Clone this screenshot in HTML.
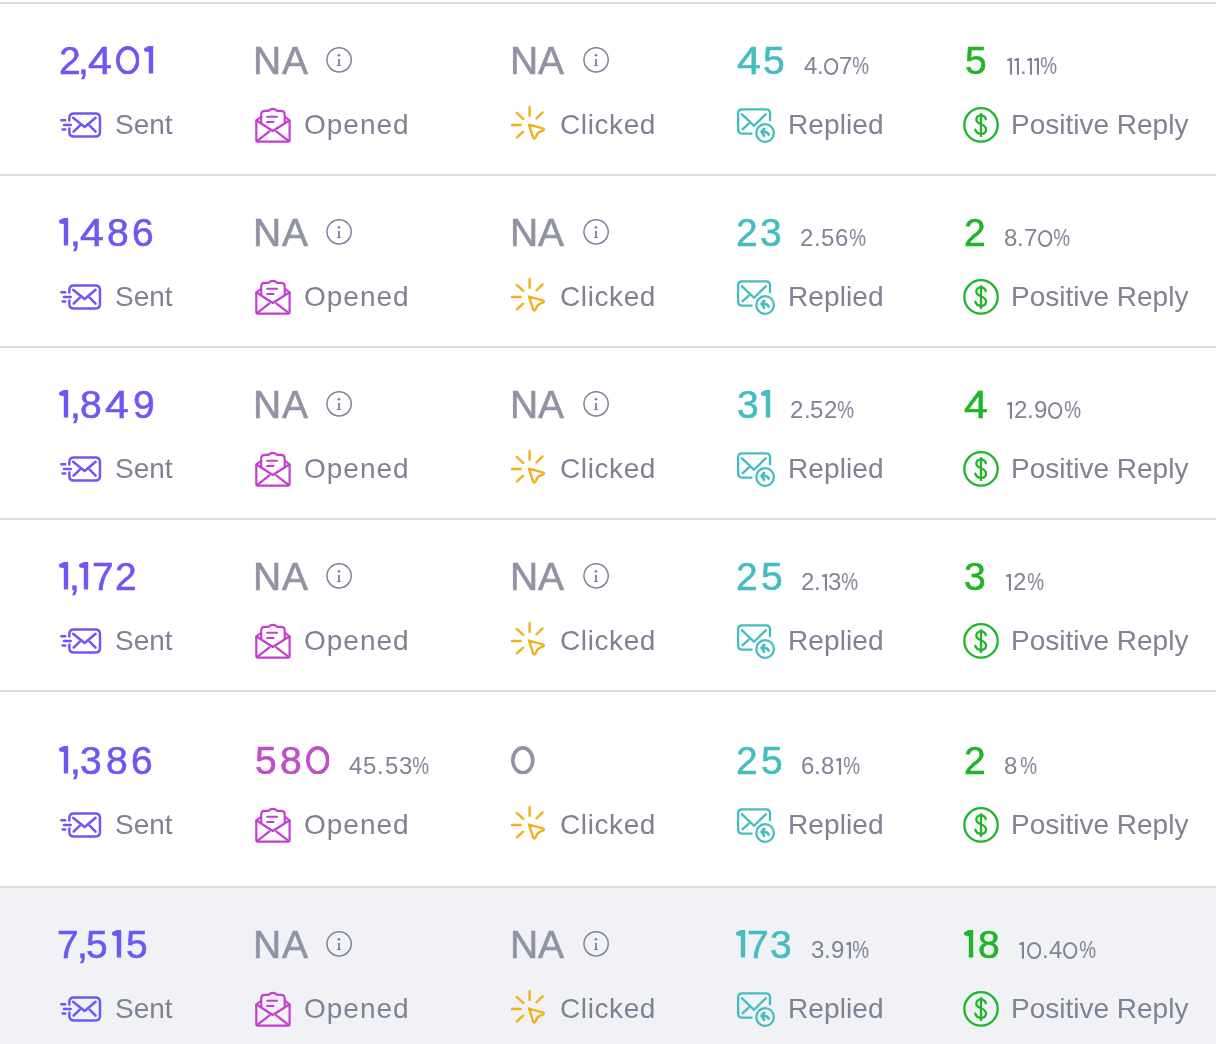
<!DOCTYPE html>
<html><head><meta charset="utf-8"><style>
html,body{margin:0;padding:0}
body{width:1216px;height:1044px;overflow:hidden;position:relative;background:#fff;font-family:"Liberation Sans",sans-serif}
.bd{position:absolute;left:0;width:1216px;height:2px;background:#dcdcdc}
.gn{position:absolute;font-size:39px;line-height:39px;-webkit-text-stroke:0.6px currentColor}
.gp{position:absolute;font-size:24px;line-height:24px;-webkit-text-stroke:0.0px currentColor}
.g1{position:absolute}
.lab{position:absolute;white-space:nowrap;font-size:28px;line-height:28px;color:#808294}
.ic{position:absolute;overflow:visible}
.gn,.gp,.lab{will-change:transform}
</style></head><body>
<div class="bd" style="top:2px"></div>
<div class="bd" style="top:174px"></div>
<div class="bd" style="top:346px"></div>
<div class="bd" style="top:518px"></div>
<div class="bd" style="top:690px"></div>
<div class="bd" style="top:886px"></div>
<div style="position:absolute;left:0;top:888px;width:1216px;height:156px;background:#f1f2f6"></div>
<span class="gn" style="left:59.04px;top:40.78px;color:#6c58f4">2</span>
<span class="gn" style="left:78.07px;top:40.78px;color:#6c58f4">,</span>
<span class="gn" style="left:87.86px;top:40.78px;color:#6c58f4;transform:scaleX(1.1);transform-origin:0.60px 50%">4</span>
<svg class="g1" style="left:115.64px;top:45.60px" width="23.60" height="28.60" viewBox="0 0 23.60 28.60"><ellipse cx="11.80" cy="14.30" rx="9.95" ry="12.45" fill="none" stroke="#6c58f4" stroke-width="3.7"/></svg>
<svg class="g1" style="left:144.20px;top:46.20px" width="10.20" height="28.60" viewBox="0 0 10.20 28.60"><path d="M4.80,0 H9.20 V27.60 H4.80 V6.00 L1.90,5.70 Q0,5.50 0,3.90 V3.40 Q0,1.90 1.60,1.60 Z" fill="#6c58f4"/></svg>
<span class="gn" style="left:252.80px;top:40.78px;color:#9193a5">N</span>
<span class="gn" style="left:281.66px;top:40.78px;color:#9193a5">A</span>
<svg class="ic" style="left:322px;top:42px" width="34" height="34" viewBox="0 0 34 34"><circle cx="17.1" cy="17.8" r="12.15" fill="none" stroke="#80819c" stroke-width="1.5"/><circle cx="16.9" cy="13.2" r="1.3" fill="#80819c"/><path d="M15.8,16.9 H17.9 V23 H18.9 V24 H15 V23 H16.1 V17.8 H15.8 Z" fill="#80819c"/></svg>
<span class="gn" style="left:509.70px;top:40.78px;color:#9193a5">N</span>
<span class="gn" style="left:538.16px;top:40.78px;color:#9193a5">A</span>
<svg class="ic" style="left:579px;top:42px" width="34" height="34" viewBox="0 0 34 34"><circle cx="17.1" cy="17.8" r="12.15" fill="none" stroke="#80819c" stroke-width="1.5"/><circle cx="16.9" cy="13.2" r="1.3" fill="#80819c"/><path d="M15.8,16.9 H17.9 V23 H18.9 V24 H15 V23 H16.1 V17.8 H15.8 Z" fill="#80819c"/></svg>
<span class="gn" style="left:736.50px;top:40.78px;color:#45bdbf;transform:scaleX(1.1);transform-origin:0.60px 50%">4</span>
<span class="gn" style="left:762.65px;top:40.78px;color:#45bdbf">5</span>
<span class="gp" style="left:803.75px;top:54.48px;color:#818396">4</span>
<span class="gp" style="left:816.66px;top:54.48px;color:#818396">.</span>
<svg class="g1" style="left:823.79px;top:58.20px" width="14.30" height="17.00" viewBox="0 0 14.30 17.00"><ellipse cx="7.15" cy="8.50" rx="6.15" ry="7.50" fill="none" stroke="#818396" stroke-width="2.0"/></svg>
<span class="gp" style="left:838.70px;top:54.48px;color:#818396">7</span>
<span class="gp" style="left:851.74px;top:54.48px;color:#818396;transform:scaleX(0.79);transform-origin:0.86px 50%">%</span>
<span class="gn" style="left:964.74px;top:40.78px;color:#1fb52b">5</span>
<svg class="g1" style="left:1006.80px;top:58.10px" width="6.00" height="17.70" viewBox="0 0 6.00 17.70"><path d="M2.90,0 H5.00 V16.70 H2.90 V3.0 L0.7,2.7 Q0,2.6 0,2.0 V1.7 Q0,1.1 0.7,0.95 Z" fill="#818396"/></svg>
<svg class="g1" style="left:1014.09px;top:58.10px" width="6.00" height="17.70" viewBox="0 0 6.00 17.70"><path d="M2.90,0 H5.00 V16.70 H2.90 V3.0 L0.7,2.7 Q0,2.6 0,2.0 V1.7 Q0,1.1 0.7,0.95 Z" fill="#818396"/></svg>
<span class="gp" style="left:1019.71px;top:54.48px;color:#818396">.</span>
<svg class="g1" style="left:1027.01px;top:58.10px" width="6.00" height="17.70" viewBox="0 0 6.00 17.70"><path d="M2.90,0 H5.00 V16.70 H2.90 V3.0 L0.7,2.7 Q0,2.6 0,2.0 V1.7 Q0,1.1 0.7,0.95 Z" fill="#818396"/></svg>
<svg class="g1" style="left:1034.30px;top:58.10px" width="6.00" height="17.70" viewBox="0 0 6.00 17.70"><path d="M2.90,0 H5.00 V16.70 H2.90 V3.0 L0.7,2.7 Q0,2.6 0,2.0 V1.7 Q0,1.1 0.7,0.95 Z" fill="#818396"/></svg>
<span class="gp" style="left:1040.24px;top:54.48px;color:#818396;transform:scaleX(0.79);transform-origin:0.86px 50%">%</span>
<svg class="ic" style="left:56px;top:106px" width="50" height="38" viewBox="0 0 50 38"><g fill="none" stroke="#6c58f4" stroke-width="2.5" stroke-linecap="round" stroke-linejoin="round"><path d="M13.35,14.4 V12 Q13.35,7.45 17.9,7.45 H39.4 Q43.95,7.45 43.95,12 V25.9 Q43.95,30.45 39.4,30.45 H17.9 Q13.35,30.45 13.35,25.9 V22.4"/><path d="M5.35,14.2 H9.25 M8.05,18.9 H14.75 M6.55,23.6 H9.25"/><path d="M17.1,11.7 L28.6,21 L39.6,11.7"/><path d="M17.6,25.6 L23.8,19.6 M39.6,25.6 L33.6,19.6"/></g></svg>
<svg class="ic" style="left:250px;top:102px" width="46" height="44" viewBox="0 0 46 44"><g fill="none" stroke="#c43fcf" stroke-width="2.2" stroke-linecap="round" stroke-linejoin="round"><path d="M6.3,18.5 V38 Q6.3,39.6 7.9,39.6 H38 Q39.6,39.6 39.6,38 V18.5"/><path d="M6.3,18.5 L10.8,15 M39.6,18.5 L35.2,15"/><path d="M11.2,20.5 V12.7 Q11.2,8.9 15,8.9 H18.3 Q22.8,4.9 27.3,8.9 H30.9 Q34.7,8.9 34.7,12.7 V20.5"/><path d="M6.6,18.5 L22.8,29 L39.2,18.5"/><path d="M7.2,38.8 L19.5,29.4 M38.6,38.8 L26.2,29.4"/><path d="M17.2,14.8 H27 M17.2,20 H23.5" stroke-width="2.1"/></g></svg>
<svg class="ic" style="left:506px;top:102px" width="46" height="44" viewBox="0 0 46 44"><g fill="none" stroke="#f0b020" stroke-width="2.4" stroke-linecap="round" stroke-linejoin="round"><path d="M23.6,5.1 V13.7 M10.7,10.9 L17.3,16.9 M36.6,10.4 L30.4,16.5 M6.0,23 H14.7 M17.15,29.65 L10.95,35.35"/><path d="M23,22.6 L27.3,35.8 Q28.2,37.4 29.2,35.8 L31.4,31.8 Q32.6,30.2 34.6,29.3 L37.3,28.3 Q38.5,27.4 37.3,26.7 Z"/></g></svg>
<svg class="ic" style="left:732px;top:102px" width="46" height="44" viewBox="0 0 46 44"><g fill="none" stroke="#45bdbf" stroke-width="2.3" stroke-linecap="round" stroke-linejoin="round"><path d="M38,18.3 V11.3 Q38,7.3 34,7.3 H10.1 Q6.1,7.3 6.1,11.3 V27.6 Q6.1,31.6 10.1,31.6 H19.6"/><path d="M9.8,12.2 L22.1,23.8 L33.8,12.2"/><path d="M10.7,27.2 L16.8,21.6"/><circle cx="33.1" cy="31" r="8.8"/><path d="M32.1,27.0 L29.6,29.7 L32.1,33.8 M29.8,29.8 Q35.4,29.4 36.6,32.4" stroke-width="2.7"/></g></svg>
<svg class="ic" style="left:958px;top:102px" width="46" height="44" viewBox="0 0 46 44"><g fill="none" stroke="#1fb52b" stroke-width="2.3" stroke-linecap="round" stroke-linejoin="round"><circle cx="23" cy="22.9" r="16.7"/><path d="M23,11.2 V35" stroke-linecap="butt"/><path d="M27.8,17.2 C27,14.5 25,13.4 23,13.4 C20.2,13.4 18.3,15.3 18.3,17.6 C18.3,20.4 20.8,21.4 23,22.3 C25.6,23.3 28,24.5 28,27.4 C28,30.2 25.8,31.8 23,31.8 C20.2,31.8 18.1,30.4 17.3,27.6"/></g></svg>
<div class="lab" style="left:115px;top:111.29px;letter-spacing:0px">Sent</div>
<div class="lab" style="left:304px;top:111.29px;letter-spacing:1.0px">Opened</div>
<div class="lab" style="left:560px;top:111.29px;letter-spacing:0.6px">Clicked</div>
<div class="lab" style="left:787.5px;top:111.29px;letter-spacing:0.1px">Replied</div>
<div class="lab" style="left:1011px;top:111.29px;letter-spacing:0px">Positive Reply</div>
<svg class="g1" style="left:59.40px;top:218.20px" width="10.20" height="28.60" viewBox="0 0 10.20 28.60"><path d="M4.80,0 H9.20 V27.60 H4.80 V6.00 L1.90,5.70 Q0,5.50 0,3.90 V3.40 Q0,1.90 1.60,1.60 Z" fill="#6c58f4"/></svg>
<span class="gn" style="left:69.89px;top:212.78px;color:#6c58f4">,</span>
<span class="gn" style="left:80.18px;top:212.78px;color:#6c58f4;transform:scaleX(1.1);transform-origin:0.60px 50%">4</span>
<span class="gn" style="left:107.45px;top:212.78px;color:#6c58f4">8</span>
<span class="gn" style="left:131.92px;top:212.78px;color:#6c58f4">6</span>
<span class="gn" style="left:252.80px;top:212.78px;color:#9193a5">N</span>
<span class="gn" style="left:281.66px;top:212.78px;color:#9193a5">A</span>
<svg class="ic" style="left:322px;top:214px" width="34" height="34" viewBox="0 0 34 34"><circle cx="17.1" cy="17.8" r="12.15" fill="none" stroke="#80819c" stroke-width="1.5"/><circle cx="16.9" cy="13.2" r="1.3" fill="#80819c"/><path d="M15.8,16.9 H17.9 V23 H18.9 V24 H15 V23 H16.1 V17.8 H15.8 Z" fill="#80819c"/></svg>
<span class="gn" style="left:509.70px;top:212.78px;color:#9193a5">N</span>
<span class="gn" style="left:538.16px;top:212.78px;color:#9193a5">A</span>
<svg class="ic" style="left:579px;top:214px" width="34" height="34" viewBox="0 0 34 34"><circle cx="17.1" cy="17.8" r="12.15" fill="none" stroke="#80819c" stroke-width="1.5"/><circle cx="16.9" cy="13.2" r="1.3" fill="#80819c"/><path d="M15.8,16.9 H17.9 V23 H18.9 V24 H15 V23 H16.1 V17.8 H15.8 Z" fill="#80819c"/></svg>
<span class="gn" style="left:735.54px;top:212.78px;color:#45bdbf">2</span>
<span class="gn" style="left:759.72px;top:212.78px;color:#45bdbf">3</span>
<span class="gp" style="left:800.09px;top:226.48px;color:#818396">2</span>
<span class="gp" style="left:814.12px;top:226.48px;color:#818396">.</span>
<span class="gp" style="left:821.42px;top:226.48px;color:#818396">5</span>
<span class="gp" style="left:835.21px;top:226.48px;color:#818396">6</span>
<span class="gp" style="left:848.94px;top:226.48px;color:#818396;transform:scaleX(0.79);transform-origin:0.86px 50%">%</span>
<span class="gn" style="left:963.64px;top:212.78px;color:#1fb52b">2</span>
<span class="gp" style="left:1003.96px;top:226.48px;color:#818396">8</span>
<span class="gp" style="left:1017.16px;top:226.48px;color:#818396">.</span>
<span class="gp" style="left:1023.69px;top:226.48px;color:#818396">7</span>
<svg class="g1" style="left:1037.88px;top:230.20px" width="14.30" height="17.00" viewBox="0 0 14.30 17.00"><ellipse cx="7.15" cy="8.50" rx="6.15" ry="7.50" fill="none" stroke="#818396" stroke-width="2.0"/></svg>
<span class="gp" style="left:1053.04px;top:226.48px;color:#818396;transform:scaleX(0.79);transform-origin:0.86px 50%">%</span>
<svg class="ic" style="left:56px;top:278px" width="50" height="38" viewBox="0 0 50 38"><g fill="none" stroke="#6c58f4" stroke-width="2.5" stroke-linecap="round" stroke-linejoin="round"><path d="M13.35,14.4 V12 Q13.35,7.45 17.9,7.45 H39.4 Q43.95,7.45 43.95,12 V25.9 Q43.95,30.45 39.4,30.45 H17.9 Q13.35,30.45 13.35,25.9 V22.4"/><path d="M5.35,14.2 H9.25 M8.05,18.9 H14.75 M6.55,23.6 H9.25"/><path d="M17.1,11.7 L28.6,21 L39.6,11.7"/><path d="M17.6,25.6 L23.8,19.6 M39.6,25.6 L33.6,19.6"/></g></svg>
<svg class="ic" style="left:250px;top:274px" width="46" height="44" viewBox="0 0 46 44"><g fill="none" stroke="#c43fcf" stroke-width="2.2" stroke-linecap="round" stroke-linejoin="round"><path d="M6.3,18.5 V38 Q6.3,39.6 7.9,39.6 H38 Q39.6,39.6 39.6,38 V18.5"/><path d="M6.3,18.5 L10.8,15 M39.6,18.5 L35.2,15"/><path d="M11.2,20.5 V12.7 Q11.2,8.9 15,8.9 H18.3 Q22.8,4.9 27.3,8.9 H30.9 Q34.7,8.9 34.7,12.7 V20.5"/><path d="M6.6,18.5 L22.8,29 L39.2,18.5"/><path d="M7.2,38.8 L19.5,29.4 M38.6,38.8 L26.2,29.4"/><path d="M17.2,14.8 H27 M17.2,20 H23.5" stroke-width="2.1"/></g></svg>
<svg class="ic" style="left:506px;top:274px" width="46" height="44" viewBox="0 0 46 44"><g fill="none" stroke="#f0b020" stroke-width="2.4" stroke-linecap="round" stroke-linejoin="round"><path d="M23.6,5.1 V13.7 M10.7,10.9 L17.3,16.9 M36.6,10.4 L30.4,16.5 M6.0,23 H14.7 M17.15,29.65 L10.95,35.35"/><path d="M23,22.6 L27.3,35.8 Q28.2,37.4 29.2,35.8 L31.4,31.8 Q32.6,30.2 34.6,29.3 L37.3,28.3 Q38.5,27.4 37.3,26.7 Z"/></g></svg>
<svg class="ic" style="left:732px;top:274px" width="46" height="44" viewBox="0 0 46 44"><g fill="none" stroke="#45bdbf" stroke-width="2.3" stroke-linecap="round" stroke-linejoin="round"><path d="M38,18.3 V11.3 Q38,7.3 34,7.3 H10.1 Q6.1,7.3 6.1,11.3 V27.6 Q6.1,31.6 10.1,31.6 H19.6"/><path d="M9.8,12.2 L22.1,23.8 L33.8,12.2"/><path d="M10.7,27.2 L16.8,21.6"/><circle cx="33.1" cy="31" r="8.8"/><path d="M32.1,27.0 L29.6,29.7 L32.1,33.8 M29.8,29.8 Q35.4,29.4 36.6,32.4" stroke-width="2.7"/></g></svg>
<svg class="ic" style="left:958px;top:274px" width="46" height="44" viewBox="0 0 46 44"><g fill="none" stroke="#1fb52b" stroke-width="2.3" stroke-linecap="round" stroke-linejoin="round"><circle cx="23" cy="22.9" r="16.7"/><path d="M23,11.2 V35" stroke-linecap="butt"/><path d="M27.8,17.2 C27,14.5 25,13.4 23,13.4 C20.2,13.4 18.3,15.3 18.3,17.6 C18.3,20.4 20.8,21.4 23,22.3 C25.6,23.3 28,24.5 28,27.4 C28,30.2 25.8,31.8 23,31.8 C20.2,31.8 18.1,30.4 17.3,27.6"/></g></svg>
<div class="lab" style="left:115px;top:283.29px;letter-spacing:0px">Sent</div>
<div class="lab" style="left:304px;top:283.29px;letter-spacing:1.0px">Opened</div>
<div class="lab" style="left:560px;top:283.29px;letter-spacing:0.6px">Clicked</div>
<div class="lab" style="left:787.5px;top:283.29px;letter-spacing:0.1px">Replied</div>
<div class="lab" style="left:1011px;top:283.29px;letter-spacing:0px">Positive Reply</div>
<svg class="g1" style="left:59.10px;top:390.20px" width="10.20" height="28.60" viewBox="0 0 10.20 28.60"><path d="M4.80,0 H9.20 V27.60 H4.80 V6.00 L1.90,5.70 Q0,5.50 0,3.90 V3.40 Q0,1.90 1.60,1.60 Z" fill="#6c58f4"/></svg>
<span class="gn" style="left:69.86px;top:384.78px;color:#6c58f4">,</span>
<span class="gn" style="left:79.55px;top:384.78px;color:#6c58f4">8</span>
<span class="gn" style="left:105.46px;top:384.78px;color:#6c58f4;transform:scaleX(1.1);transform-origin:0.60px 50%">4</span>
<span class="gn" style="left:132.96px;top:384.78px;color:#6c58f4">9</span>
<span class="gn" style="left:252.80px;top:384.78px;color:#9193a5">N</span>
<span class="gn" style="left:281.66px;top:384.78px;color:#9193a5">A</span>
<svg class="ic" style="left:322px;top:386px" width="34" height="34" viewBox="0 0 34 34"><circle cx="17.1" cy="17.8" r="12.15" fill="none" stroke="#80819c" stroke-width="1.5"/><circle cx="16.9" cy="13.2" r="1.3" fill="#80819c"/><path d="M15.8,16.9 H17.9 V23 H18.9 V24 H15 V23 H16.1 V17.8 H15.8 Z" fill="#80819c"/></svg>
<span class="gn" style="left:509.70px;top:384.78px;color:#9193a5">N</span>
<span class="gn" style="left:538.16px;top:384.78px;color:#9193a5">A</span>
<svg class="ic" style="left:579px;top:386px" width="34" height="34" viewBox="0 0 34 34"><circle cx="17.1" cy="17.8" r="12.15" fill="none" stroke="#80819c" stroke-width="1.5"/><circle cx="16.9" cy="13.2" r="1.3" fill="#80819c"/><path d="M15.8,16.9 H17.9 V23 H18.9 V24 H15 V23 H16.1 V17.8 H15.8 Z" fill="#80819c"/></svg>
<span class="gn" style="left:736.91px;top:384.78px;color:#45bdbf">3</span>
<svg class="g1" style="left:760.80px;top:390.20px" width="10.20" height="28.60" viewBox="0 0 10.20 28.60"><path d="M4.80,0 H9.20 V27.60 H4.80 V6.00 L1.90,5.70 Q0,5.50 0,3.90 V3.40 Q0,1.90 1.60,1.60 Z" fill="#45bdbf"/></svg>
<span class="gp" style="left:790.09px;top:398.48px;color:#818396">2</span>
<span class="gp" style="left:803.64px;top:398.48px;color:#818396">.</span>
<span class="gp" style="left:810.49px;top:398.48px;color:#818396">5</span>
<span class="gp" style="left:823.97px;top:398.48px;color:#818396">2</span>
<span class="gp" style="left:837.44px;top:398.48px;color:#818396;transform:scaleX(0.79);transform-origin:0.86px 50%">%</span>
<span class="gn" style="left:964.10px;top:384.78px;color:#1fb52b;transform:scaleX(1.1);transform-origin:0.60px 50%">4</span>
<svg class="g1" style="left:1006.90px;top:402.10px" width="6.00" height="17.70" viewBox="0 0 6.00 17.70"><path d="M2.90,0 H5.00 V16.70 H2.90 V3.0 L0.7,2.7 Q0,2.6 0,2.0 V1.7 Q0,1.1 0.7,0.95 Z" fill="#818396"/></svg>
<span class="gp" style="left:1013.54px;top:398.48px;color:#818396">2</span>
<span class="gp" style="left:1027.07px;top:398.48px;color:#818396">.</span>
<span class="gp" style="left:1033.91px;top:398.48px;color:#818396">9</span>
<svg class="g1" style="left:1048.31px;top:402.20px" width="14.30" height="17.00" viewBox="0 0 14.30 17.00"><ellipse cx="7.15" cy="8.50" rx="6.15" ry="7.50" fill="none" stroke="#818396" stroke-width="2.0"/></svg>
<span class="gp" style="left:1063.64px;top:398.48px;color:#818396;transform:scaleX(0.79);transform-origin:0.86px 50%">%</span>
<svg class="ic" style="left:56px;top:450px" width="50" height="38" viewBox="0 0 50 38"><g fill="none" stroke="#6c58f4" stroke-width="2.5" stroke-linecap="round" stroke-linejoin="round"><path d="M13.35,14.4 V12 Q13.35,7.45 17.9,7.45 H39.4 Q43.95,7.45 43.95,12 V25.9 Q43.95,30.45 39.4,30.45 H17.9 Q13.35,30.45 13.35,25.9 V22.4"/><path d="M5.35,14.2 H9.25 M8.05,18.9 H14.75 M6.55,23.6 H9.25"/><path d="M17.1,11.7 L28.6,21 L39.6,11.7"/><path d="M17.6,25.6 L23.8,19.6 M39.6,25.6 L33.6,19.6"/></g></svg>
<svg class="ic" style="left:250px;top:446px" width="46" height="44" viewBox="0 0 46 44"><g fill="none" stroke="#c43fcf" stroke-width="2.2" stroke-linecap="round" stroke-linejoin="round"><path d="M6.3,18.5 V38 Q6.3,39.6 7.9,39.6 H38 Q39.6,39.6 39.6,38 V18.5"/><path d="M6.3,18.5 L10.8,15 M39.6,18.5 L35.2,15"/><path d="M11.2,20.5 V12.7 Q11.2,8.9 15,8.9 H18.3 Q22.8,4.9 27.3,8.9 H30.9 Q34.7,8.9 34.7,12.7 V20.5"/><path d="M6.6,18.5 L22.8,29 L39.2,18.5"/><path d="M7.2,38.8 L19.5,29.4 M38.6,38.8 L26.2,29.4"/><path d="M17.2,14.8 H27 M17.2,20 H23.5" stroke-width="2.1"/></g></svg>
<svg class="ic" style="left:506px;top:446px" width="46" height="44" viewBox="0 0 46 44"><g fill="none" stroke="#f0b020" stroke-width="2.4" stroke-linecap="round" stroke-linejoin="round"><path d="M23.6,5.1 V13.7 M10.7,10.9 L17.3,16.9 M36.6,10.4 L30.4,16.5 M6.0,23 H14.7 M17.15,29.65 L10.95,35.35"/><path d="M23,22.6 L27.3,35.8 Q28.2,37.4 29.2,35.8 L31.4,31.8 Q32.6,30.2 34.6,29.3 L37.3,28.3 Q38.5,27.4 37.3,26.7 Z"/></g></svg>
<svg class="ic" style="left:732px;top:446px" width="46" height="44" viewBox="0 0 46 44"><g fill="none" stroke="#45bdbf" stroke-width="2.3" stroke-linecap="round" stroke-linejoin="round"><path d="M38,18.3 V11.3 Q38,7.3 34,7.3 H10.1 Q6.1,7.3 6.1,11.3 V27.6 Q6.1,31.6 10.1,31.6 H19.6"/><path d="M9.8,12.2 L22.1,23.8 L33.8,12.2"/><path d="M10.7,27.2 L16.8,21.6"/><circle cx="33.1" cy="31" r="8.8"/><path d="M32.1,27.0 L29.6,29.7 L32.1,33.8 M29.8,29.8 Q35.4,29.4 36.6,32.4" stroke-width="2.7"/></g></svg>
<svg class="ic" style="left:958px;top:446px" width="46" height="44" viewBox="0 0 46 44"><g fill="none" stroke="#1fb52b" stroke-width="2.3" stroke-linecap="round" stroke-linejoin="round"><circle cx="23" cy="22.9" r="16.7"/><path d="M23,11.2 V35" stroke-linecap="butt"/><path d="M27.8,17.2 C27,14.5 25,13.4 23,13.4 C20.2,13.4 18.3,15.3 18.3,17.6 C18.3,20.4 20.8,21.4 23,22.3 C25.6,23.3 28,24.5 28,27.4 C28,30.2 25.8,31.8 23,31.8 C20.2,31.8 18.1,30.4 17.3,27.6"/></g></svg>
<div class="lab" style="left:115px;top:455.29px;letter-spacing:0px">Sent</div>
<div class="lab" style="left:304px;top:455.29px;letter-spacing:1.0px">Opened</div>
<div class="lab" style="left:560px;top:455.29px;letter-spacing:0.6px">Clicked</div>
<div class="lab" style="left:787.5px;top:455.29px;letter-spacing:0.1px">Replied</div>
<div class="lab" style="left:1011px;top:455.29px;letter-spacing:0px">Positive Reply</div>
<svg class="g1" style="left:59.10px;top:562.20px" width="10.20" height="28.60" viewBox="0 0 10.20 28.60"><path d="M4.80,0 H9.20 V27.60 H4.80 V6.00 L1.90,5.70 Q0,5.50 0,3.90 V3.40 Q0,1.90 1.60,1.60 Z" fill="#6c58f4"/></svg>
<span class="gn" style="left:68.92px;top:556.78px;color:#6c58f4">,</span>
<svg class="g1" style="left:79.32px;top:562.20px" width="10.20" height="28.60" viewBox="0 0 10.20 28.60"><path d="M4.80,0 H9.20 V27.60 H4.80 V6.00 L1.90,5.70 Q0,5.50 0,3.90 V3.40 Q0,1.90 1.60,1.60 Z" fill="#6c58f4"/></svg>
<span class="gn" style="left:91.81px;top:556.78px;color:#6c58f4">7</span>
<span class="gn" style="left:115.17px;top:556.78px;color:#6c58f4">2</span>
<span class="gn" style="left:252.80px;top:556.78px;color:#9193a5">N</span>
<span class="gn" style="left:281.66px;top:556.78px;color:#9193a5">A</span>
<svg class="ic" style="left:322px;top:558px" width="34" height="34" viewBox="0 0 34 34"><circle cx="17.1" cy="17.8" r="12.15" fill="none" stroke="#80819c" stroke-width="1.5"/><circle cx="16.9" cy="13.2" r="1.3" fill="#80819c"/><path d="M15.8,16.9 H17.9 V23 H18.9 V24 H15 V23 H16.1 V17.8 H15.8 Z" fill="#80819c"/></svg>
<span class="gn" style="left:509.70px;top:556.78px;color:#9193a5">N</span>
<span class="gn" style="left:538.16px;top:556.78px;color:#9193a5">A</span>
<svg class="ic" style="left:579px;top:558px" width="34" height="34" viewBox="0 0 34 34"><circle cx="17.1" cy="17.8" r="12.15" fill="none" stroke="#80819c" stroke-width="1.5"/><circle cx="16.9" cy="13.2" r="1.3" fill="#80819c"/><path d="M15.8,16.9 H17.9 V23 H18.9 V24 H15 V23 H16.1 V17.8 H15.8 Z" fill="#80819c"/></svg>
<span class="gn" style="left:736.14px;top:556.78px;color:#45bdbf">2</span>
<span class="gn" style="left:760.55px;top:556.78px;color:#45bdbf">5</span>
<span class="gp" style="left:800.69px;top:570.48px;color:#818396">2</span>
<span class="gp" style="left:813.77px;top:570.48px;color:#818396">.</span>
<svg class="g1" style="left:821.64px;top:574.10px" width="6.00" height="17.70" viewBox="0 0 6.00 17.70"><path d="M2.90,0 H5.00 V16.70 H2.90 V3.0 L0.7,2.7 Q0,2.6 0,2.0 V1.7 Q0,1.1 0.7,0.95 Z" fill="#818396"/></svg>
<span class="gp" style="left:827.94px;top:570.48px;color:#818396">3</span>
<span class="gp" style="left:841.14px;top:570.48px;color:#818396;transform:scaleX(0.79);transform-origin:0.86px 50%">%</span>
<span class="gn" style="left:964.11px;top:556.78px;color:#1fb52b">3</span>
<svg class="g1" style="left:1005.90px;top:574.10px" width="6.00" height="17.70" viewBox="0 0 6.00 17.70"><path d="M2.90,0 H5.00 V16.70 H2.90 V3.0 L0.7,2.7 Q0,2.6 0,2.0 V1.7 Q0,1.1 0.7,0.95 Z" fill="#818396"/></svg>
<span class="gp" style="left:1013.13px;top:570.48px;color:#818396">2</span>
<span class="gp" style="left:1027.04px;top:570.48px;color:#818396;transform:scaleX(0.79);transform-origin:0.86px 50%">%</span>
<svg class="ic" style="left:56px;top:622px" width="50" height="38" viewBox="0 0 50 38"><g fill="none" stroke="#6c58f4" stroke-width="2.5" stroke-linecap="round" stroke-linejoin="round"><path d="M13.35,14.4 V12 Q13.35,7.45 17.9,7.45 H39.4 Q43.95,7.45 43.95,12 V25.9 Q43.95,30.45 39.4,30.45 H17.9 Q13.35,30.45 13.35,25.9 V22.4"/><path d="M5.35,14.2 H9.25 M8.05,18.9 H14.75 M6.55,23.6 H9.25"/><path d="M17.1,11.7 L28.6,21 L39.6,11.7"/><path d="M17.6,25.6 L23.8,19.6 M39.6,25.6 L33.6,19.6"/></g></svg>
<svg class="ic" style="left:250px;top:618px" width="46" height="44" viewBox="0 0 46 44"><g fill="none" stroke="#c43fcf" stroke-width="2.2" stroke-linecap="round" stroke-linejoin="round"><path d="M6.3,18.5 V38 Q6.3,39.6 7.9,39.6 H38 Q39.6,39.6 39.6,38 V18.5"/><path d="M6.3,18.5 L10.8,15 M39.6,18.5 L35.2,15"/><path d="M11.2,20.5 V12.7 Q11.2,8.9 15,8.9 H18.3 Q22.8,4.9 27.3,8.9 H30.9 Q34.7,8.9 34.7,12.7 V20.5"/><path d="M6.6,18.5 L22.8,29 L39.2,18.5"/><path d="M7.2,38.8 L19.5,29.4 M38.6,38.8 L26.2,29.4"/><path d="M17.2,14.8 H27 M17.2,20 H23.5" stroke-width="2.1"/></g></svg>
<svg class="ic" style="left:506px;top:618px" width="46" height="44" viewBox="0 0 46 44"><g fill="none" stroke="#f0b020" stroke-width="2.4" stroke-linecap="round" stroke-linejoin="round"><path d="M23.6,5.1 V13.7 M10.7,10.9 L17.3,16.9 M36.6,10.4 L30.4,16.5 M6.0,23 H14.7 M17.15,29.65 L10.95,35.35"/><path d="M23,22.6 L27.3,35.8 Q28.2,37.4 29.2,35.8 L31.4,31.8 Q32.6,30.2 34.6,29.3 L37.3,28.3 Q38.5,27.4 37.3,26.7 Z"/></g></svg>
<svg class="ic" style="left:732px;top:618px" width="46" height="44" viewBox="0 0 46 44"><g fill="none" stroke="#45bdbf" stroke-width="2.3" stroke-linecap="round" stroke-linejoin="round"><path d="M38,18.3 V11.3 Q38,7.3 34,7.3 H10.1 Q6.1,7.3 6.1,11.3 V27.6 Q6.1,31.6 10.1,31.6 H19.6"/><path d="M9.8,12.2 L22.1,23.8 L33.8,12.2"/><path d="M10.7,27.2 L16.8,21.6"/><circle cx="33.1" cy="31" r="8.8"/><path d="M32.1,27.0 L29.6,29.7 L32.1,33.8 M29.8,29.8 Q35.4,29.4 36.6,32.4" stroke-width="2.7"/></g></svg>
<svg class="ic" style="left:958px;top:618px" width="46" height="44" viewBox="0 0 46 44"><g fill="none" stroke="#1fb52b" stroke-width="2.3" stroke-linecap="round" stroke-linejoin="round"><circle cx="23" cy="22.9" r="16.7"/><path d="M23,11.2 V35" stroke-linecap="butt"/><path d="M27.8,17.2 C27,14.5 25,13.4 23,13.4 C20.2,13.4 18.3,15.3 18.3,17.6 C18.3,20.4 20.8,21.4 23,22.3 C25.6,23.3 28,24.5 28,27.4 C28,30.2 25.8,31.8 23,31.8 C20.2,31.8 18.1,30.4 17.3,27.6"/></g></svg>
<div class="lab" style="left:115px;top:627.29px;letter-spacing:0px">Sent</div>
<div class="lab" style="left:304px;top:627.29px;letter-spacing:1.0px">Opened</div>
<div class="lab" style="left:560px;top:627.29px;letter-spacing:0.6px">Clicked</div>
<div class="lab" style="left:787.5px;top:627.29px;letter-spacing:0.1px">Replied</div>
<div class="lab" style="left:1011px;top:627.29px;letter-spacing:0px">Positive Reply</div>
<svg class="g1" style="left:59.10px;top:746.20px" width="10.20" height="28.60" viewBox="0 0 10.20 28.60"><path d="M4.80,0 H9.20 V27.60 H4.80 V6.00 L1.90,5.70 Q0,5.50 0,3.90 V3.40 Q0,1.90 1.60,1.60 Z" fill="#6c58f4"/></svg>
<span class="gn" style="left:70.24px;top:740.78px;color:#6c58f4">,</span>
<span class="gn" style="left:80.41px;top:740.78px;color:#6c58f4">3</span>
<span class="gn" style="left:106.00px;top:740.78px;color:#6c58f4">8</span>
<span class="gn" style="left:131.32px;top:740.78px;color:#6c58f4">6</span>
<span class="gn" style="left:254.64px;top:740.78px;color:#c04dcc">5</span>
<span class="gn" style="left:279.55px;top:740.78px;color:#c04dcc">8</span>
<svg class="g1" style="left:305.80px;top:745.60px" width="23.60" height="28.60" viewBox="0 0 23.60 28.60"><ellipse cx="11.80" cy="14.30" rx="9.95" ry="12.45" fill="none" stroke="#c04dcc" stroke-width="3.7"/></svg>
<span class="gp" style="left:349.15px;top:754.48px;color:#818396">4</span>
<span class="gp" style="left:362.94px;top:754.48px;color:#818396">5</span>
<span class="gp" style="left:377.15px;top:754.48px;color:#818396">.</span>
<span class="gp" style="left:384.66px;top:754.48px;color:#818396">5</span>
<span class="gp" style="left:398.53px;top:754.48px;color:#818396">3</span>
<span class="gp" style="left:412.39px;top:754.48px;color:#818396;transform:scaleX(0.79);transform-origin:0.86px 50%">%</span>
<svg class="g1" style="left:511.25px;top:745.60px" width="23.60" height="28.60" viewBox="0 0 23.60 28.60"><ellipse cx="11.80" cy="14.30" rx="9.95" ry="12.45" fill="none" stroke="#9193a5" stroke-width="3.7"/></svg>
<span class="gn" style="left:736.14px;top:740.78px;color:#45bdbf">2</span>
<span class="gn" style="left:760.55px;top:740.78px;color:#45bdbf">5</span>
<span class="gp" style="left:800.68px;top:754.48px;color:#818396">6</span>
<span class="gp" style="left:814.20px;top:754.48px;color:#818396">.</span>
<span class="gp" style="left:821.03px;top:754.48px;color:#818396">8</span>
<svg class="g1" style="left:836.01px;top:758.10px" width="6.00" height="17.70" viewBox="0 0 6.00 17.70"><path d="M2.90,0 H5.00 V16.70 H2.90 V3.0 L0.7,2.7 Q0,2.6 0,2.0 V1.7 Q0,1.1 0.7,0.95 Z" fill="#818396"/></svg>
<span class="gp" style="left:842.64px;top:754.48px;color:#818396;transform:scaleX(0.79);transform-origin:0.86px 50%">%</span>
<span class="gn" style="left:963.64px;top:740.78px;color:#1fb52b">2</span>
<span class="gp" style="left:1003.96px;top:754.48px;color:#818396">8</span>
<span class="gp" style="left:1020.24px;top:754.48px;color:#818396;transform:scaleX(0.79);transform-origin:0.86px 50%">%</span>
<svg class="ic" style="left:56px;top:806px" width="50" height="38" viewBox="0 0 50 38"><g fill="none" stroke="#6c58f4" stroke-width="2.5" stroke-linecap="round" stroke-linejoin="round"><path d="M13.35,14.4 V12 Q13.35,7.45 17.9,7.45 H39.4 Q43.95,7.45 43.95,12 V25.9 Q43.95,30.45 39.4,30.45 H17.9 Q13.35,30.45 13.35,25.9 V22.4"/><path d="M5.35,14.2 H9.25 M8.05,18.9 H14.75 M6.55,23.6 H9.25"/><path d="M17.1,11.7 L28.6,21 L39.6,11.7"/><path d="M17.6,25.6 L23.8,19.6 M39.6,25.6 L33.6,19.6"/></g></svg>
<svg class="ic" style="left:250px;top:802px" width="46" height="44" viewBox="0 0 46 44"><g fill="none" stroke="#c43fcf" stroke-width="2.2" stroke-linecap="round" stroke-linejoin="round"><path d="M6.3,18.5 V38 Q6.3,39.6 7.9,39.6 H38 Q39.6,39.6 39.6,38 V18.5"/><path d="M6.3,18.5 L10.8,15 M39.6,18.5 L35.2,15"/><path d="M11.2,20.5 V12.7 Q11.2,8.9 15,8.9 H18.3 Q22.8,4.9 27.3,8.9 H30.9 Q34.7,8.9 34.7,12.7 V20.5"/><path d="M6.6,18.5 L22.8,29 L39.2,18.5"/><path d="M7.2,38.8 L19.5,29.4 M38.6,38.8 L26.2,29.4"/><path d="M17.2,14.8 H27 M17.2,20 H23.5" stroke-width="2.1"/></g></svg>
<svg class="ic" style="left:506px;top:802px" width="46" height="44" viewBox="0 0 46 44"><g fill="none" stroke="#f0b020" stroke-width="2.4" stroke-linecap="round" stroke-linejoin="round"><path d="M23.6,5.1 V13.7 M10.7,10.9 L17.3,16.9 M36.6,10.4 L30.4,16.5 M6.0,23 H14.7 M17.15,29.65 L10.95,35.35"/><path d="M23,22.6 L27.3,35.8 Q28.2,37.4 29.2,35.8 L31.4,31.8 Q32.6,30.2 34.6,29.3 L37.3,28.3 Q38.5,27.4 37.3,26.7 Z"/></g></svg>
<svg class="ic" style="left:732px;top:802px" width="46" height="44" viewBox="0 0 46 44"><g fill="none" stroke="#45bdbf" stroke-width="2.3" stroke-linecap="round" stroke-linejoin="round"><path d="M38,18.3 V11.3 Q38,7.3 34,7.3 H10.1 Q6.1,7.3 6.1,11.3 V27.6 Q6.1,31.6 10.1,31.6 H19.6"/><path d="M9.8,12.2 L22.1,23.8 L33.8,12.2"/><path d="M10.7,27.2 L16.8,21.6"/><circle cx="33.1" cy="31" r="8.8"/><path d="M32.1,27.0 L29.6,29.7 L32.1,33.8 M29.8,29.8 Q35.4,29.4 36.6,32.4" stroke-width="2.7"/></g></svg>
<svg class="ic" style="left:958px;top:802px" width="46" height="44" viewBox="0 0 46 44"><g fill="none" stroke="#1fb52b" stroke-width="2.3" stroke-linecap="round" stroke-linejoin="round"><circle cx="23" cy="22.9" r="16.7"/><path d="M23,11.2 V35" stroke-linecap="butt"/><path d="M27.8,17.2 C27,14.5 25,13.4 23,13.4 C20.2,13.4 18.3,15.3 18.3,17.6 C18.3,20.4 20.8,21.4 23,22.3 C25.6,23.3 28,24.5 28,27.4 C28,30.2 25.8,31.8 23,31.8 C20.2,31.8 18.1,30.4 17.3,27.6"/></g></svg>
<div class="lab" style="left:115px;top:811.29px;letter-spacing:0px">Sent</div>
<div class="lab" style="left:304px;top:811.29px;letter-spacing:1.0px">Opened</div>
<div class="lab" style="left:560px;top:811.29px;letter-spacing:0.6px">Clicked</div>
<div class="lab" style="left:787.5px;top:811.29px;letter-spacing:0.1px">Replied</div>
<div class="lab" style="left:1011px;top:811.29px;letter-spacing:0px">Positive Reply</div>
<span class="gn" style="left:57.40px;top:924.78px;color:#6c58f4">7</span>
<span class="gn" style="left:76.72px;top:924.78px;color:#6c58f4">,</span>
<span class="gn" style="left:86.22px;top:924.78px;color:#6c58f4">5</span>
<svg class="g1" style="left:112.19px;top:930.20px" width="10.20" height="28.60" viewBox="0 0 10.20 28.60"><path d="M4.80,0 H9.20 V27.60 H4.80 V6.00 L1.90,5.70 Q0,5.50 0,3.90 V3.40 Q0,1.90 1.60,1.60 Z" fill="#6c58f4"/></svg>
<span class="gn" style="left:125.75px;top:924.78px;color:#6c58f4">5</span>
<span class="gn" style="left:252.80px;top:924.78px;color:#9193a5">N</span>
<span class="gn" style="left:281.66px;top:924.78px;color:#9193a5">A</span>
<svg class="ic" style="left:322px;top:926px" width="34" height="34" viewBox="0 0 34 34"><circle cx="17.1" cy="17.8" r="12.15" fill="none" stroke="#80819c" stroke-width="1.5"/><circle cx="16.9" cy="13.2" r="1.3" fill="#80819c"/><path d="M15.8,16.9 H17.9 V23 H18.9 V24 H15 V23 H16.1 V17.8 H15.8 Z" fill="#80819c"/></svg>
<span class="gn" style="left:509.70px;top:924.78px;color:#9193a5">N</span>
<span class="gn" style="left:538.16px;top:924.78px;color:#9193a5">A</span>
<svg class="ic" style="left:579px;top:926px" width="34" height="34" viewBox="0 0 34 34"><circle cx="17.1" cy="17.8" r="12.15" fill="none" stroke="#80819c" stroke-width="1.5"/><circle cx="16.9" cy="13.2" r="1.3" fill="#80819c"/><path d="M15.8,16.9 H17.9 V23 H18.9 V24 H15 V23 H16.1 V17.8 H15.8 Z" fill="#80819c"/></svg>
<svg class="g1" style="left:736.30px;top:930.20px" width="10.20" height="28.60" viewBox="0 0 10.20 28.60"><path d="M4.80,0 H9.20 V27.60 H4.80 V6.00 L1.90,5.70 Q0,5.50 0,3.90 V3.40 Q0,1.90 1.60,1.60 Z" fill="#45bdbf"/></svg>
<span class="gn" style="left:747.49px;top:924.78px;color:#45bdbf">7</span>
<span class="gn" style="left:770.02px;top:924.78px;color:#45bdbf">3</span>
<span class="gp" style="left:810.69px;top:938.48px;color:#818396">3</span>
<span class="gp" style="left:824.03px;top:938.48px;color:#818396">.</span>
<span class="gp" style="left:830.70px;top:938.48px;color:#818396">9</span>
<svg class="g1" style="left:845.54px;top:942.10px" width="6.00" height="17.70" viewBox="0 0 6.00 17.70"><path d="M2.90,0 H5.00 V16.70 H2.90 V3.0 L0.7,2.7 Q0,2.6 0,2.0 V1.7 Q0,1.1 0.7,0.95 Z" fill="#818396"/></svg>
<span class="gp" style="left:852.04px;top:938.48px;color:#818396;transform:scaleX(0.79);transform-origin:0.86px 50%">%</span>
<svg class="g1" style="left:963.80px;top:930.20px" width="10.20" height="28.60" viewBox="0 0 10.20 28.60"><path d="M4.80,0 H9.20 V27.60 H4.80 V6.00 L1.90,5.70 Q0,5.50 0,3.90 V3.40 Q0,1.90 1.60,1.60 Z" fill="#1fb52b"/></svg>
<span class="gn" style="left:977.80px;top:924.78px;color:#1fb52b">8</span>
<svg class="g1" style="left:1019.40px;top:942.10px" width="6.00" height="17.70" viewBox="0 0 6.00 17.70"><path d="M2.90,0 H5.00 V16.70 H2.90 V3.0 L0.7,2.7 Q0,2.6 0,2.0 V1.7 Q0,1.1 0.7,0.95 Z" fill="#818396"/></svg>
<svg class="g1" style="left:1026.91px;top:942.20px" width="14.30" height="17.00" viewBox="0 0 14.30 17.00"><ellipse cx="7.15" cy="8.50" rx="6.15" ry="7.50" fill="none" stroke="#818396" stroke-width="2.0"/></svg>
<span class="gp" style="left:1042.25px;top:938.48px;color:#818396">.</span>
<span class="gp" style="left:1049.01px;top:938.48px;color:#818396">4</span>
<svg class="g1" style="left:1063.34px;top:942.20px" width="14.30" height="17.00" viewBox="0 0 14.30 17.00"><ellipse cx="7.15" cy="8.50" rx="6.15" ry="7.50" fill="none" stroke="#818396" stroke-width="2.0"/></svg>
<span class="gp" style="left:1078.64px;top:938.48px;color:#818396;transform:scaleX(0.79);transform-origin:0.86px 50%">%</span>
<svg class="ic" style="left:56px;top:990px" width="50" height="38" viewBox="0 0 50 38"><g fill="none" stroke="#6c58f4" stroke-width="2.5" stroke-linecap="round" stroke-linejoin="round"><path d="M13.35,14.4 V12 Q13.35,7.45 17.9,7.45 H39.4 Q43.95,7.45 43.95,12 V25.9 Q43.95,30.45 39.4,30.45 H17.9 Q13.35,30.45 13.35,25.9 V22.4"/><path d="M5.35,14.2 H9.25 M8.05,18.9 H14.75 M6.55,23.6 H9.25"/><path d="M17.1,11.7 L28.6,21 L39.6,11.7"/><path d="M17.6,25.6 L23.8,19.6 M39.6,25.6 L33.6,19.6"/></g></svg>
<svg class="ic" style="left:250px;top:986px" width="46" height="44" viewBox="0 0 46 44"><g fill="none" stroke="#c43fcf" stroke-width="2.2" stroke-linecap="round" stroke-linejoin="round"><path d="M6.3,18.5 V38 Q6.3,39.6 7.9,39.6 H38 Q39.6,39.6 39.6,38 V18.5"/><path d="M6.3,18.5 L10.8,15 M39.6,18.5 L35.2,15"/><path d="M11.2,20.5 V12.7 Q11.2,8.9 15,8.9 H18.3 Q22.8,4.9 27.3,8.9 H30.9 Q34.7,8.9 34.7,12.7 V20.5"/><path d="M6.6,18.5 L22.8,29 L39.2,18.5"/><path d="M7.2,38.8 L19.5,29.4 M38.6,38.8 L26.2,29.4"/><path d="M17.2,14.8 H27 M17.2,20 H23.5" stroke-width="2.1"/></g></svg>
<svg class="ic" style="left:506px;top:986px" width="46" height="44" viewBox="0 0 46 44"><g fill="none" stroke="#f0b020" stroke-width="2.4" stroke-linecap="round" stroke-linejoin="round"><path d="M23.6,5.1 V13.7 M10.7,10.9 L17.3,16.9 M36.6,10.4 L30.4,16.5 M6.0,23 H14.7 M17.15,29.65 L10.95,35.35"/><path d="M23,22.6 L27.3,35.8 Q28.2,37.4 29.2,35.8 L31.4,31.8 Q32.6,30.2 34.6,29.3 L37.3,28.3 Q38.5,27.4 37.3,26.7 Z"/></g></svg>
<svg class="ic" style="left:732px;top:986px" width="46" height="44" viewBox="0 0 46 44"><g fill="none" stroke="#45bdbf" stroke-width="2.3" stroke-linecap="round" stroke-linejoin="round"><path d="M38,18.3 V11.3 Q38,7.3 34,7.3 H10.1 Q6.1,7.3 6.1,11.3 V27.6 Q6.1,31.6 10.1,31.6 H19.6"/><path d="M9.8,12.2 L22.1,23.8 L33.8,12.2"/><path d="M10.7,27.2 L16.8,21.6"/><circle cx="33.1" cy="31" r="8.8"/><path d="M32.1,27.0 L29.6,29.7 L32.1,33.8 M29.8,29.8 Q35.4,29.4 36.6,32.4" stroke-width="2.7"/></g></svg>
<svg class="ic" style="left:958px;top:986px" width="46" height="44" viewBox="0 0 46 44"><g fill="none" stroke="#1fb52b" stroke-width="2.3" stroke-linecap="round" stroke-linejoin="round"><circle cx="23" cy="22.9" r="16.7"/><path d="M23,11.2 V35" stroke-linecap="butt"/><path d="M27.8,17.2 C27,14.5 25,13.4 23,13.4 C20.2,13.4 18.3,15.3 18.3,17.6 C18.3,20.4 20.8,21.4 23,22.3 C25.6,23.3 28,24.5 28,27.4 C28,30.2 25.8,31.8 23,31.8 C20.2,31.8 18.1,30.4 17.3,27.6"/></g></svg>
<div class="lab" style="left:115px;top:995.29px;letter-spacing:0px">Sent</div>
<div class="lab" style="left:304px;top:995.29px;letter-spacing:1.0px">Opened</div>
<div class="lab" style="left:560px;top:995.29px;letter-spacing:0.6px">Clicked</div>
<div class="lab" style="left:787.5px;top:995.29px;letter-spacing:0.1px">Replied</div>
<div class="lab" style="left:1011px;top:995.29px;letter-spacing:0px">Positive Reply</div>
</body></html>
